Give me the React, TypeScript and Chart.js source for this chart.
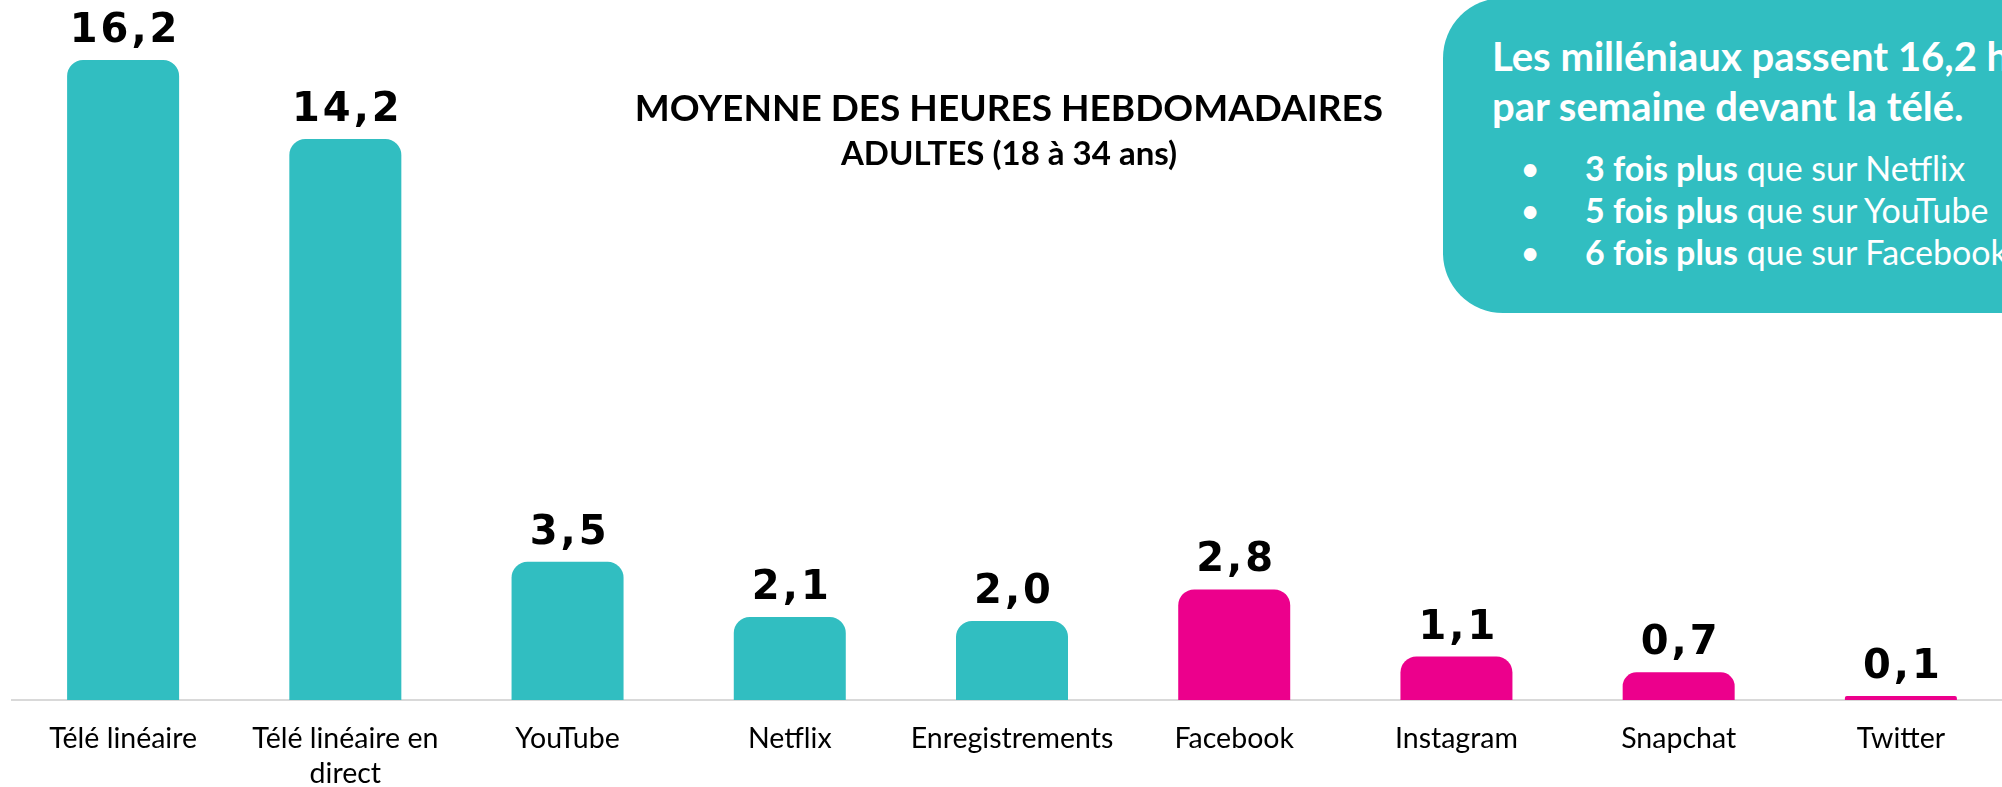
import { useEffect, useRef } from "react";
import { Chart, registerables } from "chart.js";

Chart.register(...registerables);

// ---------- data ----------
const categories = [
  "Télé linéaire",
  "Télé linéaire en direct",
  "YouTube",
  "Netflix",
  "Enregistrements",
  "Facebook",
  "Instagram",
  "Snapchat",
  "Twitter",
];
const tickLabels = [
  ["Télé linéaire"],
  ["Télé linéaire en", "direct"],
  ["YouTube"],
  ["Netflix"],
  ["Enregistrements"],
  ["Facebook"],
  ["Instagram"],
  ["Snapchat"],
  ["Twitter"],
];
const hoursPerWeek = [16.2, 14.2, 3.5, 2.1, 2.0, 2.8, 1.1, 0.7, 0.1];
const platformGroup = ["tv", "tv", "video", "video", "tv", "social", "social", "social", "social"];

const titleText = "MOYENNE DES HEURES HEBDOMADAIRES";
const subtitleText = "ADULTES (18 à 34 ans)";
const calloutHeading = ["Les milléniaux passent 16,2 heures", "par semaine devant la télé."];
const calloutBold = ["3 fois plus", "5 fois plus", "6 fois plus"];
const calloutRest = [" que sur Netflix", " que sur YouTube", " que sur Facebook"];

// ---------- styles ----------
const TEAL = "#31BEC1";
const PINK = "#EC008C";
const BODY_FONT = "Lato, 'Open Sans', sans-serif";

const valueLabelPlugin = {
  id: "valueLabels",
  afterDatasetsDraw(chart: any) {
    const ctx = chart.ctx;
    const meta = chart.getDatasetMeta(0);
    const values = chart.data.datasets[0].data as number[];
    ctx.save();
    ctx.font = "bold 40px 'DejaVu Sans', sans-serif";
    ctx.fillStyle = "#000";
    ctx.textAlign = "center";
    ctx.textBaseline = "alphabetic";
    try {
      (ctx as any).letterSpacing = "3px";
    } catch (e) {}
    meta.data.forEach((el: any, i: number) => {
      const txt = values[i].toFixed(1).replace(".", ",");
      ctx.fillText(txt, el.x + 2, el.y - 18);
    });
    ctx.restore();
  },
};

export default function App() {
  const canvasRef = useRef<HTMLCanvasElement | null>(null);

  useEffect(() => {
    if (!canvasRef.current) return;
    const chart = new Chart(canvasRef.current, {
      type: "bar",
      data: {
        labels: tickLabels as any,
        datasets: [
          {
            label: "Heures par semaine",
            data: hoursPerWeek,
            backgroundColor: platformGroup.map((g) => (g === "social" ? PINK : TEAL)),
            borderRadius: { topLeft: 16, topRight: 16, bottomLeft: 0, bottomRight: 0 },
            borderSkipped: "start",
            categoryPercentage: 1,
            barPercentage: 0.504,
          },
        ],
      },
      options: {
        responsive: false,
        animation: false,
        layout: { padding: { left: 12, right: 0, top: 0, bottom: 0 } },
        plugins: {
          legend: { display: false },
          tooltip: { enabled: false },
          title: { display: false },
        },
        scales: {
          x: {
            grid: { display: false, drawTicks: false },
            border: { display: true, color: "#d9d9d9", width: 2 },
            ticks: {
              color: "#000",
              font: { family: BODY_FONT, size: 28.5, lineHeight: 1.23 },
              padding: 21,
              maxRotation: 0,
              minRotation: 0,
              autoSkip: false,
            },
            afterFit: (scale: any) => {
              scale.height = 87;
            },
          },
          y: { display: false, min: 0, max: 17.72 },
        },
      },
      plugins: [valueLabelPlugin],
    });
    return () => chart.destroy();
  }, []);

  return (
    <div
      style={{
        position: "fixed",
        left: 0,
        top: 0,
        width: 2002,
        height: 787,
        overflow: "hidden",
        background: "#fff",
      }}
    >
      <canvas
        ref={canvasRef}
        width={2012}
        height={787}
        style={{ position: "absolute", left: 0, top: 0, width: 2012, height: 787 }}
        aria-label={categories.join(", ")}
      />
      <div
        style={{
          position: "absolute",
          left: 609,
          width: 800,
          top: 88,
          textAlign: "center",
          fontFamily: BODY_FONT,
          fontWeight: 700,
          fontSize: 37,
          lineHeight: 1,
          color: "#000",
          whiteSpace: "nowrap",
        }}
      >
        {titleText}
      </div>
      <div
        style={{
          position: "absolute",
          left: 609,
          width: 800,
          top: 136,
          textAlign: "center",
          fontFamily: BODY_FONT,
          fontWeight: 700,
          fontSize: 33,
          lineHeight: 1,
          color: "#000",
          whiteSpace: "nowrap",
        }}
      >
        {subtitleText}
      </div>
      <div
        style={{
          position: "absolute",
          left: 1443,
          top: -2,
          width: 700,
          height: 315,
          background: TEAL,
          borderRadius: 60,
        }}
      />
      <div
        style={{
          position: "absolute",
          left: 1492,
          top: 31,
          fontFamily: BODY_FONT,
          fontWeight: 700,
          fontSize: 40,
          lineHeight: "50px",
          color: "#fff",
          whiteSpace: "nowrap",
        }}
      >
        {calloutHeading.map((l, i) => (
          <div key={i}>{l}</div>
        ))}
      </div>
      <div
        style={{
          position: "absolute",
          left: 1510,
          top: 147,
          fontFamily: BODY_FONT,
          fontSize: 34,
          lineHeight: "42px",
          color: "#fff",
          whiteSpace: "nowrap",
        }}
      >
        {calloutBold.map((b, i) => (
          <div key={i} style={{ display: "flex" }}>
            <span style={{ display: "inline-block", width: 40, textAlign: "center", marginRight: 35 }}>•</span>
            <span>
              <b>{b}</b>
              {calloutRest[i]}
            </span>
          </div>
        ))}
      </div>
    </div>
  );
}
